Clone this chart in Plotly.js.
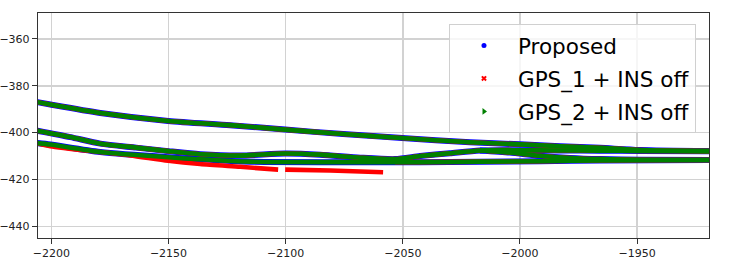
<!DOCTYPE html>
<html>
<head>
<meta charset="utf-8">
<script src="https://cdn.plot.ly/plotly-3.0.1.min.js"></script>
<style>
  html, body { margin: 0; padding: 0; background: #fff; }
  #chart { width: 732px; height: 272px; }
</style>
</head>
<body>
<div id="chart"></div>
<script>
// ---- Data (x = east/west coordinate, y = north/south) ----
// Track A (upper pass)
const trackAX = [-2206.4, -2200.4, -2179.1, -2150.1, -2123.7, -2100.2, -2075.5, -2050.3, -2021.3, -2000.0, -1982.9, -1965.9, -1948.8, -1918.1];
const trackAY = [-386.9, -388.0, -391.6, -395.0, -396.8, -398.7, -400.6, -402.3, -404.1, -405.0, -405.8, -406.5, -407.4, -407.9];
// Track B (middle, wavy pass joining A on the right)
const trackBX = [-2206.4, -2191.9, -2179.1, -2163.8, -2150.1, -2136.5, -2119.4, -2100.2, -2085.3, -2068.2, -2053.3, -2042.6, -2029.9, -2017.1, -2000.0, -1982.9, -1965.9, -1948.8, -1918.1];
const trackBY = [-399.1, -401.9, -404.7, -406.4, -407.9, -409.2, -409.8, -408.9, -409.4, -410.7, -411.3, -410.0, -408.8, -407.6, -407.5, -407.6, -407.7, -407.8, -407.9];
// Track B' (branch leaving B and joining C)
const trackB2X = [-2017.1, -2004.3, -1991.5, -1978.7, -1965.9, -1948.8, -1918.1];
const trackB2Y = [-407.6, -408.5, -409.9, -410.8, -411.3, -411.6, -411.7];
// Track C (lower pass)
const trackCX = [-2206.4, -2200.4, -2179.1, -2150.1, -2115.1, -2076.8, -2042.6, -2017.1, -1991.5, -1965.9, -1918.1];
const trackCY = [-404.4, -405.1, -408.3, -410.5, -412.4, -412.6, -412.6, -412.4, -412.2, -411.9, -411.7];
// GPS_1 + INS off on track C (drifts below, with a dropout)
const gps1CX = [-2206.4, -2200.4, -2179.1, -2166.3, -2150.1, -2136.5, -2119.4, -2103.2, null, -2100.2, -2081.0, -2058.4, null, -2053.3, -2042.6, -2017.1, -1991.5, -1965.9, -1918.1];
const gps1CY = [-404.4, -405.8, -408.3, -409.7, -412.0, -413.4, -414.6, -415.8, null, -415.8, -416.2, -416.9, null, -412.6, -412.6, -412.4, -412.2, -411.9, -411.7];

const seriesNames = ['Proposed', 'GPS_1 + INS off', 'GPS_2 + INS off'];
const seriesColors = ['blue', 'red', 'green'];
const xTicks = [-2200, -2150, -2100, -2050, -2000, -1950];
const yTicks = [-440, -420, -400, -380, -360];

function joinTracks(list) {
  const out = [];
  list.forEach((t, i) => { if (i > 0) out.push(null); t.forEach(v => out.push(v)); });
  return out;
}

const propX = joinTracks([trackAX, trackBX, trackB2X, trackCX]);
const propY = joinTracks([trackAY, trackBY, trackB2Y, trackCY]);
const gps1X = joinTracks([trackAX, trackBX, trackB2X, gps1CX]);
const gps1Y = joinTracks([trackAY, trackBY, trackB2Y, gps1CY]);
const gps2X = joinTracks([trackAX, trackBX, trackB2X, trackCX]);
const gps2Y = joinTracks([trackAY, trackBY, trackB2Y, trackCY]);

const widths = [6.0, 4.6, 4.6];
const symbols = ['circle', 'x', 'triangle-right'];
const sizes = [5, 5, 6];
const dataX = [propX, gps1X, gps2X];
const dataY = [propY, gps1Y, gps2Y];

const traces = [];
for (let i = 0; i < 3; i++) {
  traces.push({
    type: 'scatter', mode: 'lines', x: dataX[i], y: dataY[i],
    line: { color: seriesColors[i], width: widths[i], shape: 'spline', smoothing: 0.7 },
    connectgaps: false, showlegend: false, hoverinfo: 'skip'
  });
}
for (let i = 0; i < 3; i++) {
  traces.push({
    type: 'scatter', mode: 'markers', x: [null], y: [null], name: seriesNames[i],
    legendgroup: 'g' + i,
    marker: { color: seriesColors[i], symbol: symbols[i], size: sizes[i], line: { width: 0 } },
    showlegend: true
  });
}

const axisCommon = {
  showgrid: true, gridcolor: '#d2d2d2', gridwidth: 1.5,
  zeroline: false, showline: true, mirror: true, linecolor: '#333', linewidth: 1.2,
  ticks: 'outside', ticklen: 5, tickwidth: 1, tickcolor: '#333',
  tickfont: { family: 'DejaVu Sans', size: 11, color: '#222' }
};

const layout = {
  width: 732, height: 272,
  margin: { l: 38, r: 23, t: 13, b: 34 },
  paper_bgcolor: '#fff', plot_bgcolor: '#fff',
  font: { family: 'DejaVu Sans' },
  xaxis: Object.assign({}, axisCommon, { range: [-2205.7, -1919.3], tickvals: xTicks, ticktext: xTicks.map(v => '\u2212' + Math.abs(v)) }),
  yaxis: Object.assign({}, axisCommon, { range: [-445, -348.9], tickvals: yTicks, ticktext: yTicks.map(v => '\u2212' + Math.abs(v)) }),
  legend: {
    x: 0.6125, y: 0.951, xanchor: 'left', yanchor: 'top',
    bgcolor: 'rgba(255,255,255,0.8)', bordercolor: '#d0d0d0', borderwidth: 1,
    font: { family: 'DejaVu Sans', size: 21.5, color: '#000' },
    traceorder: 'grouped', tracegroupgap: 2, itemwidth: 58
  },
  showlegend: true
};

Plotly.newPlot('chart', traces, layout, { staticPlot: true, displayModeBar: false });
</script>
</body>
</html>
